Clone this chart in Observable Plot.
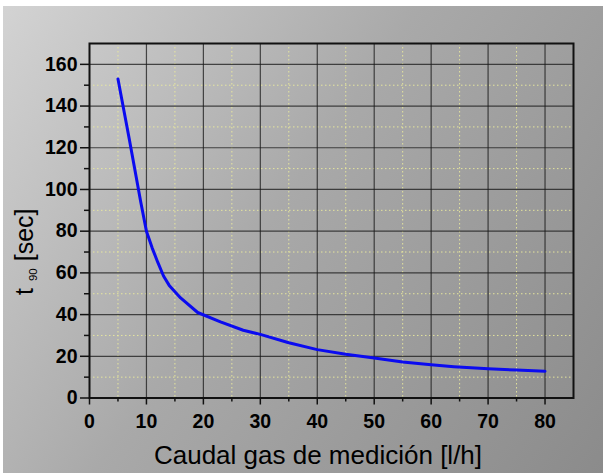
<!DOCTYPE html>
<html>
<head>
<meta charset="utf-8">
<script src="https://cdn.jsdelivr.net/npm/d3@7"></script>
<script src="https://cdn.jsdelivr.net/npm/@observablehq/plot@0.6"></script>
<style>
  html, body { margin: 0; padding: 0; background: #ffffff; }
  #chart svg { display: block; }
</style>
</head>
<body>
<div id="chart"></div>
<script>
// Data
const flow = [5, 7, 9, 10, 11, 12, 13, 14, 16, 19, 23, 27, 30, 35, 40, 45, 50, 55, 60, 64, 70, 75, 80];
const t90 = [153, 124, 94, 80, 72, 65, 58.5, 54, 48, 41, 36.5, 32.5, 30.5, 26.5, 23.2, 21, 19.2, 17.3, 15.9, 15, 14, 13.4, 12.8];
const xTicks = [0, 10, 20, 30, 40, 50, 60, 70, 80];
const yTicks = [0, 20, 40, 60, 80, 100, 120, 140, 160];
const xMinor = [5, 15, 25, 35, 45, 55, 65, 75];
const yMinor = [10, 30, 50, 70, 90, 110, 130, 150];
const xTitle = "Caudal gas de medición [l/h]";
const yTitle = ["t", "90", "[sec]"];

const data = flow.map((x, i) => ({x, y: t90[i]}));

const font = "'Liberation Sans', Arial, Helvetica, sans-serif";

const chart = Plot.plot({
  width: 603,
  height: 473,
  marginLeft: 89,
  marginRight: 30,
  marginTop: 43,
  marginBottom: 75.5,
  style: {
    background: "#ffffff linear-gradient(125deg, #d3d3d3 0%, #a9a9a9 45%, #8b8b8b 100%) no-repeat 3px 6px / 600px 467px",
    fontFamily: font,
    color: "#000",
    overflow: "hidden"
  },
  x: {domain: [0, 85]},
  y: {domain: [0, 170]},
  marks: [
    Plot.ruleX(xMinor, {stroke: "#ecec9c", strokeDasharray: "1.5,2.5", strokeWidth: 1, strokeOpacity: 0.9}),
    Plot.ruleY(yMinor, {stroke: "#ecec9c", strokeDasharray: "1.5,2.5", strokeWidth: 1, strokeOpacity: 0.9}),
    Plot.ruleX(xTicks.slice(1), {stroke: "#1a1a1a", strokeOpacity: 0.75, strokeWidth: 1.2}),
    Plot.ruleY(yTicks.slice(1), {stroke: "#1a1a1a", strokeOpacity: 0.75, strokeWidth: 1.2}),
    Plot.line(data, {x: "x", y: "y", stroke: "#0b0bf0", strokeWidth: 3, strokeLinejoin: "round"}),
    Plot.frame({stroke: "#111", strokeWidth: 2}),
    Plot.axisX(xTicks, {tickSize: 7, tickPadding: 9, fontSize: 19.5, fontWeight: "bold", label: null, stroke: "#111", strokeWidth: 1.5}),
    Plot.axisX(xMinor, {tickSize: 4, tickFormat: () => "", label: null, stroke: "#111", strokeWidth: 1.5}),
    Plot.axisY(yTicks, {tickSize: 9, tickPadding: 3, fontSize: 19.5, fontWeight: "bold", label: null, stroke: "#111", strokeWidth: 1.5}),
    Plot.axisY(yMinor, {tickSize: 5, tickFormat: () => "", label: null, stroke: "#111", strokeWidth: 1.5}),
    Plot.text([xTitle], {frameAnchor: "bottom", lineAnchor: "bottom", textAnchor: "middle", dx: -13.5, dy: 65.5, fontSize: 26, fill: "#000"}),
    Plot.text([yTitle.join(" ")], {frameAnchor: "left", textAnchor: "middle", lineAnchor: "middle", rotate: -90, dx: -65, dy: 31, fontSize: 25, fill: "#000"})
  ]
});

// subscript for the y title
const full = yTitle.join(" ");
const yl = Array.from(chart.querySelectorAll("text")).find(t => t.textContent === full);
if (yl) {
  yl.textContent = "";
  const ns = "http://www.w3.org/2000/svg";
  const a = document.createElementNS(ns, "tspan");
  a.textContent = yTitle[0] + " ";
  const b = document.createElementNS(ns, "tspan");
  b.textContent = yTitle[1];
  b.setAttribute("font-size", "11.5");
  b.setAttribute("dy", "4");
  const c = document.createElementNS(ns, "tspan");
  c.textContent = " " + yTitle[2];
  c.setAttribute("dy", "-4");
  yl.append(a, b, c);
}

document.getElementById("chart").append(chart);
</script>
</body>
</html>
